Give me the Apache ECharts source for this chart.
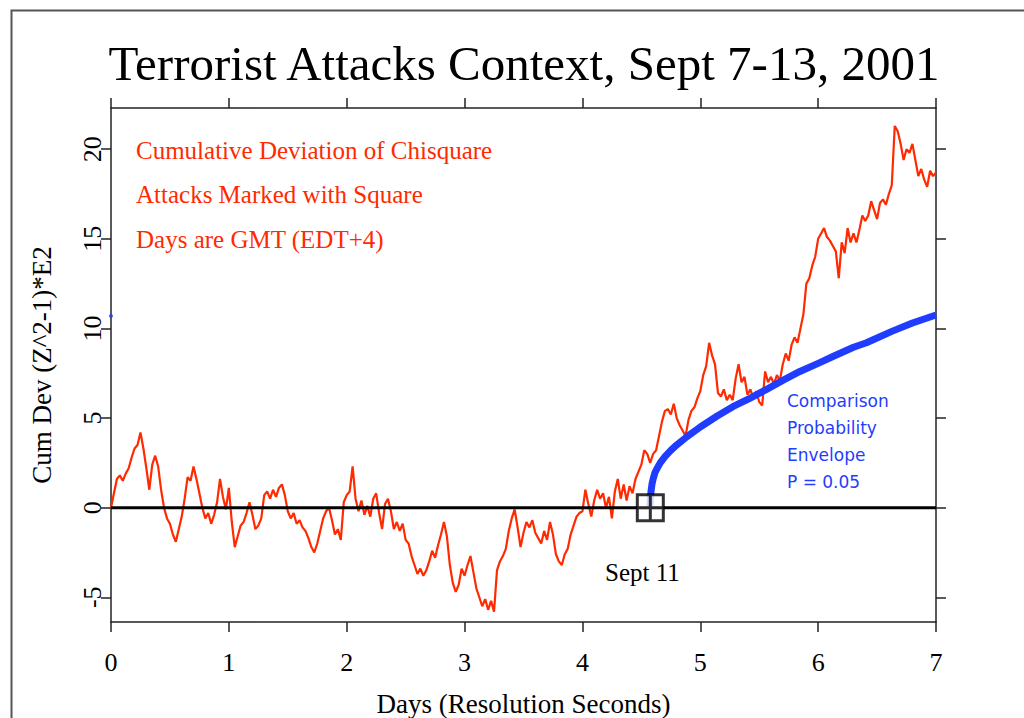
<!DOCTYPE html>
<html>
<head>
<meta charset="utf-8">
<script src="https://cdn.jsdelivr.net/npm/echarts@6/dist/echarts.min.js"></script>
<style>
  html, body { margin: 0; padding: 0; background: #fff; }
  #chart { width: 1024px; height: 718px; }
</style>
</head>
<body>
<div id="chart"></div>
<script>
// ---------- data ----------
const TITLE = 'Terrorist Attacks Context, Sept 7-13, 2001';
const X_NAME = 'Days (Resolution Seconds)';
const Y_NAME = 'Cum Dev (Z^2-1)*E2';
const X_MIN = 0, X_MAX = 7;
const Y_MIN = -6.38, Y_MAX = 22.3;
const Y_TICKS = [-5, 0, 5, 10, 15, 20];
const X_TICKS = [0, 1, 2, 3, 4, 5, 6, 7];

// sample spacing of the red cumulative-deviation trace (days)
const RED_STEP = 0.025;
// values, one per RED_STEP, 10 per row (0.25 day)
const redValues = [
  0.0, 0.8, 1.6, 1.8, 1.5, 1.9, 2.2, 2.8, 3.3, 3.5,
  4.2, 3.3, 2.2, 1.0, 2.4, 2.9, 2.3, 1.0, 0.0, -0.6,
  -0.9, -1.5, -1.9, -1.2, -0.5, 0.5, 1.7, 1.5, 2.3, 1.6,
  0.8, 0.0, -0.6, -0.3, -0.9, -0.4, 0.3, 1.6, 0.6, -0.1,
  1.1, -0.8, -2.2, -1.6, -1.0, -0.8, -0.3, 0.3, -0.4, -1.2,
  -1.0, -0.6, 0.7, 0.9, 0.5, 1.0, 0.6, 1.1, 1.3, 0.7,
  -0.2, -0.6, -0.3, -0.9, -0.7, -1.1, -1.3, -1.7, -2.2, -2.5,
  -2.0, -1.3, -0.6, -0.2, 0.0, -0.7, -1.5, -1.2, -1.8, 0.3,
  0.7, 0.9, 2.3, 0.5, -0.2, 0.4, -0.4, 0.1, -0.5, 0.5,
  0.8, -0.3, -1.2, 0.2, 0.5, -0.2, -1.2, -0.8, -1.3, -0.9,
  -1.8, -2.0, -2.7, -3.2, -3.7, -3.4, -3.8, -3.5, -3.0, -2.4,
  -2.8, -2.1, -1.5, -0.8, -1.6, -3.2, -4.2, -4.7, -4.3, -3.4,
  -3.8, -3.2, -2.7, -3.6, -4.5, -5.0, -5.5, -5.1, -5.7, -5.2,
  -5.8, -3.5, -3.0, -2.7, -2.3, -1.3, -0.6, -0.1, -1.1, -2.2,
  -1.4, -0.8, -1.1, -0.7, -1.4, -1.7, -2.0, -1.3, -1.8, -0.8,
  -1.5, -2.6, -3.0, -3.2, -2.6, -2.3, -1.5, -1.0, -0.5, -0.3,
  -0.2, 1.0, 0.2, -0.5, 0.4, 1.0, 0.5, 0.8, 0.0, 0.6,
  -0.6, 0.9, 1.6, 0.5, 1.3, 0.4, 1.2, 0.8, 1.6, 2.0,
  2.4, 3.2, 3.0, 2.5, 3.0, 3.2, 4.0, 4.8, 5.4, 5.5,
  5.2, 5.8, 5.0, 4.6, 4.3, 4.0, 4.9, 5.4, 5.6, 6.1,
  6.5, 7.4, 7.9, 9.2, 8.5, 8.0, 6.4, 6.2, 6.6, 6.0,
  6.3, 6.0, 7.2, 8.0, 7.0, 7.3, 6.3, 6.6, 6.1, 6.5,
  5.9, 5.7, 7.6, 7.0, 7.3, 6.9, 7.4, 7.1, 8.0, 8.6,
  8.2, 9.1, 9.5, 9.2, 10.0, 10.8, 12.5, 12.8, 13.5, 14.0,
  15.0, 15.3, 15.6, 15.1, 14.9, 14.6, 14.3, 12.8, 14.8, 14.2,
  15.6, 14.8, 15.3, 14.8, 15.5, 16.3, 16.0, 16.3, 17.1, 16.6,
  16.1, 17.0, 17.2, 16.9, 17.5, 18.0, 21.3, 21.0, 20.3, 19.4,
  20.0, 19.8, 20.3, 19.4, 18.5, 18.9, 18.3, 17.9, 18.8, 18.5,
  18.7
];

// comparison probability envelope (P = 0.05)
const envDays   = [4.573, 4.576, 4.582, 4.59, 4.6, 4.615, 4.635, 4.66, 4.7, 4.75, 4.8, 4.885, 5.0, 5.14, 5.28, 5.42, 5.563, 5.7, 5.845, 6.0, 6.13, 6.3, 6.41, 6.63, 6.8, 7.0];
const envValues = [0, 0.5, 0.9, 1.3, 1.6, 1.95, 2.2, 2.5, 2.85, 3.2, 3.5, 3.95, 4.5, 5.1, 5.65, 6.1, 6.6, 7.1, 7.6, 8.05, 8.45, 8.95, 9.2, 9.85, 10.3, 10.75];

// stray blue dot at the left axis (envelope end value)
const envStrayDot = [0, 10.7];

// attack marker
const ATTACK_DAY = 4.576;
const ATTACK_LABEL = 'Sept 11';

const redNotes = ['Cumulative Deviation of Chisquare', 'Attacks Marked with Square', 'Days are GMT (EDT+4)'];
const blueNotes = ['Comparison', 'Probability', 'Envelope', 'P = 0.05'];

// ---------- build ----------
const redData = redValues.map((v, i) => [+(i * RED_STEP).toFixed(3), v]);
const envData = envDays.map((d, i) => [d, envValues[i]]);

const SERIF = "'Liberation Serif', 'DejaVu Serif', serif";
const AX = { color: '#222', width: 1.5 };

const chart = echarts.init(document.getElementById('chart'), null, { renderer: 'svg' });

const option = {
  animation: false,
  backgroundColor: '#fff',
  title: {
    text: TITLE,
    left: 519, top: 34, textAlign: 'center',
    textStyle: { fontFamily: SERIF, fontSize: 49, fontWeight: 'normal', color: '#000' }
  },
  grid: { left: 111, right: 88, top: 108, bottom: 96, outerBoundsMode: 'none', containLabel: false },
  xAxis: [{
    type: 'value', min: X_MIN, max: X_MAX, interval: 1, position: 'bottom',
    axisLine: { show: true, onZero: false, lineStyle: AX },
    axisTick: { show: true, length: 10, lineStyle: AX },
    axisLabel: { fontFamily: SERIF, fontSize: 26, color: '#000', margin: 27 },
    splitLine: { show: false },
    name: X_NAME, nameLocation: 'middle', nameGap: 68,
    nameTextStyle: { fontFamily: SERIF, fontSize: 27, color: '#000' }
  }, {
    type: 'value', min: X_MIN, max: X_MAX, interval: 1, position: 'top',
    axisLine: { show: true, onZero: false, lineStyle: AX },
    axisTick: { show: true, length: 10, lineStyle: AX },
    axisLabel: { show: false }, splitLine: { show: false }
  }],
  yAxis: [{
    type: 'value', min: Y_MIN, max: Y_MAX, position: 'left',
    axisLine: { show: true, onZero: false, lineStyle: AX },
    axisTick: { show: true, length: 10, customValues: Y_TICKS, lineStyle: AX },
    axisLabel: { rotate: 90, customValues: Y_TICKS, fontFamily: SERIF, fontSize: 26, color: '#000', margin: 6 },
    splitLine: { show: false },
    name: Y_NAME, nameLocation: 'middle', nameGap: 56, nameRotate: 90,
    nameTextStyle: { fontFamily: SERIF, fontSize: 27, color: '#000' }
  }, {
    type: 'value', min: Y_MIN, max: Y_MAX, position: 'right',
    axisLine: { show: true, onZero: false, lineStyle: AX },
    axisTick: { show: true, length: 10, customValues: Y_TICKS, lineStyle: AX },
    axisLabel: { show: false }, splitLine: { show: false }
  }],
  series: [{
    name: 'Cumulative Deviation', type: 'line', data: redData,
    showSymbol: false, symbol: 'none', sampling: null, z: 2,
    lineStyle: { color: '#ff2a00', width: 2.2 }
  }, {
    name: 'Envelope', type: 'line', data: envData, smooth: false,
    showSymbol: false, symbol: 'none', z: 3,
    lineStyle: { color: '#1f3cff', width: 7, join: 'round', cap: 'butt' }
  }, {
    name: 'EnvDot', type: 'scatter', data: [envStrayDot], symbolSize: 4, z: 3,
    itemStyle: { color: '#1f3cff' }, silent: true
  }, {
    name: 'Zero', type: 'line', data: [[X_MIN, 0], [X_MAX, 0]],
    showSymbol: false, symbol: 'none', z: 4,
    lineStyle: { color: '#000', width: 3 }
  }, {
    name: 'Attack', type: 'scatter', data: [[ATTACK_DAY, 0]], z: 5,
    symbol: 'path://M0,0H20V20H0Z M10,0V20 M0,10H20', symbolSize: 26,
    itemStyle: { color: '#fff', borderColor: '#000', borderWidth: 3 }
  }],
  graphic: [
    { type: 'rect', left: 9, top: 8, shape: { x: 0, y: 0, width: 1100, height: 800 },
      style: { fill: 'none', stroke: '#555', lineWidth: 2 }, z: -1 },
    { type: 'text', x: 136, y: 150, style: { text: redNotes[0], font: "25px 'Liberation Serif', serif", fill: '#ff2a00', verticalAlign: 'middle' } },
    { type: 'text', x: 136, y: 194, style: { text: redNotes[1], font: "25px 'Liberation Serif', serif", fill: '#ff2a00', verticalAlign: 'middle' } },
    { type: 'text', x: 136, y: 239, style: { text: redNotes[2], font: "25px 'Liberation Serif', serif", fill: '#ff2a00', verticalAlign: 'middle' } },
    { type: 'text', x: 787, y: 401, style: { text: blueNotes[0], font: "17px 'DejaVu Sans', sans-serif", fill: '#1f3cff', verticalAlign: 'middle' } },
    { type: 'text', x: 787, y: 428, style: { text: blueNotes[1], font: "17px 'DejaVu Sans', sans-serif", fill: '#1f3cff', verticalAlign: 'middle' } },
    { type: 'text', x: 787, y: 455, style: { text: blueNotes[2], font: "17px 'DejaVu Sans', sans-serif", fill: '#1f3cff', verticalAlign: 'middle' } },
    { type: 'text', x: 787, y: 482, style: { text: blueNotes[3], font: "17px 'DejaVu Sans', sans-serif", fill: '#1f3cff', verticalAlign: 'middle' } },
    { type: 'text', x: 605, y: 572, style: { text: ATTACK_LABEL, font: "25px 'Liberation Serif', serif", fill: '#000', verticalAlign: 'middle' } }
  ]
};
chart.setOption(option);
</script>
</body>
</html>
